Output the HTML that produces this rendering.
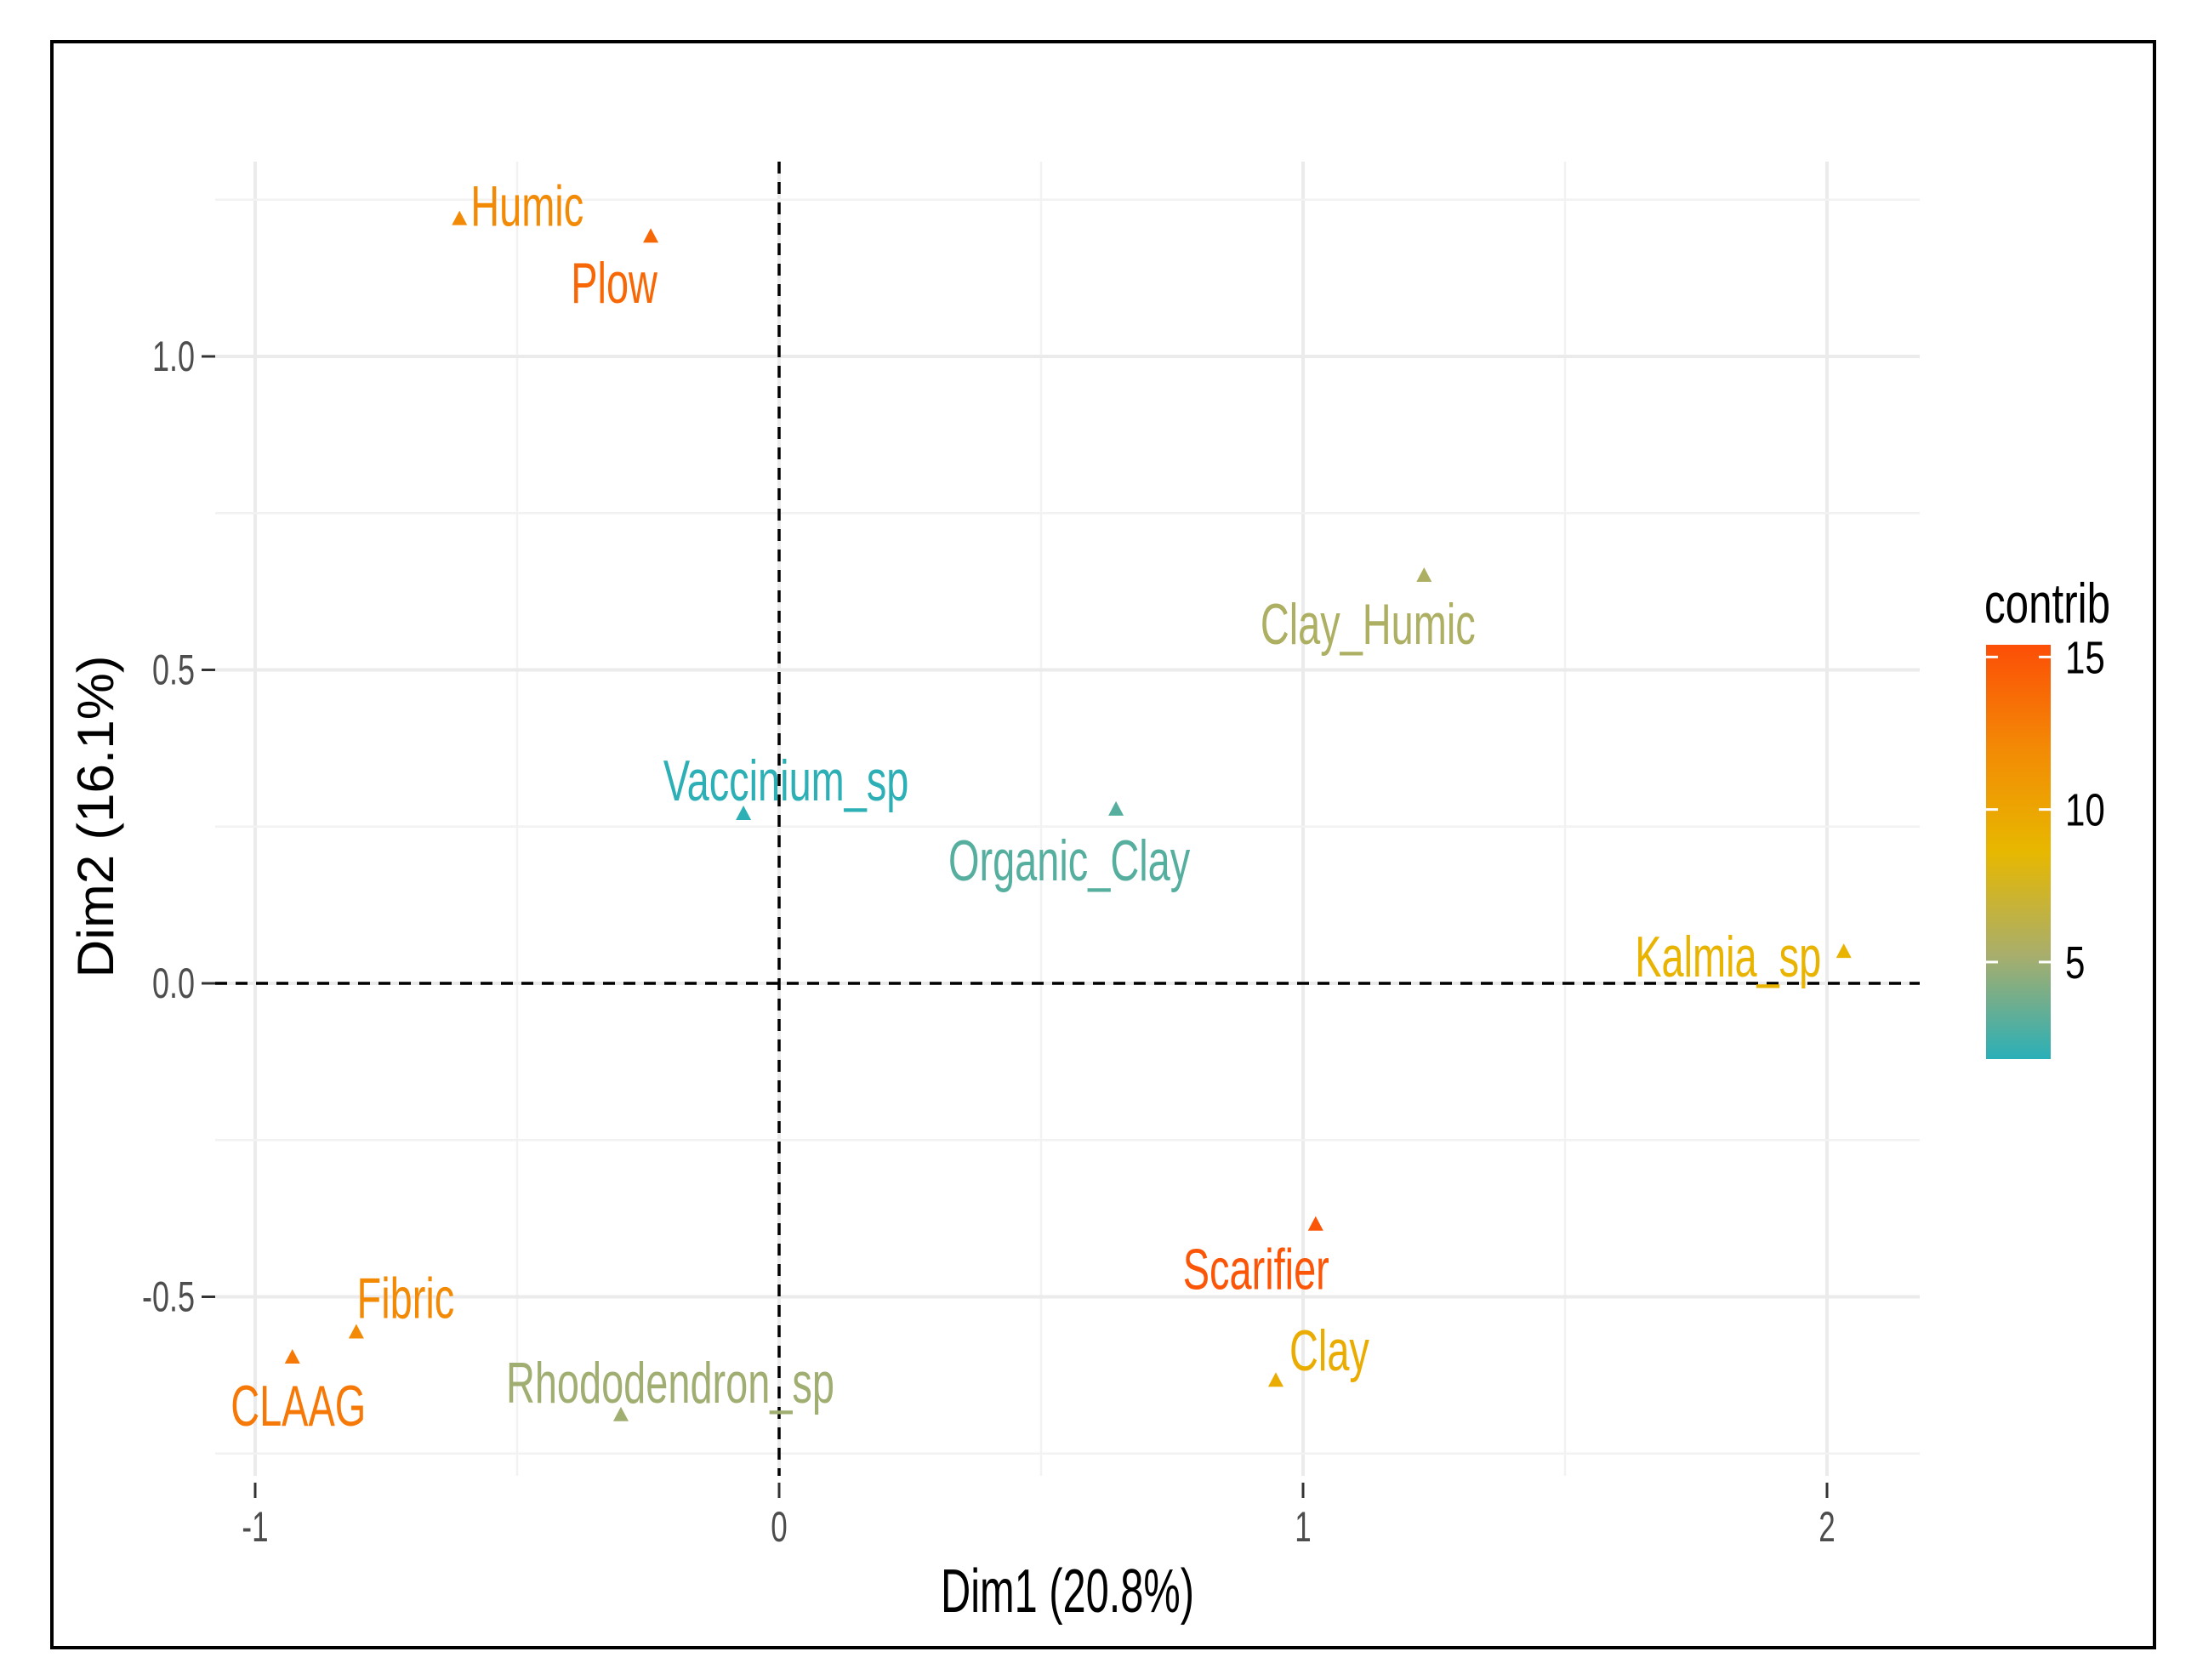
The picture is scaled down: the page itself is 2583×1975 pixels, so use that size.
<!DOCTYPE html>
<html><head><meta charset="utf-8">
<style>
html,body{margin:0;padding:0;background:#fff;}
svg{display:block;font-family:"Liberation Sans",sans-serif;}
</style></head>
<body>
<svg id="chart" width="2583" height="1975" viewBox="0 0 2583 1975" xmlns="http://www.w3.org/2000/svg">
<defs>
<linearGradient id="grad" x1="0" y1="1" x2="0" y2="0">
<stop offset="0" stop-color="#2aafb8"/>
<stop offset="0.25" stop-color="#a8ae6c"/>
<stop offset="0.5" stop-color="#e7b800"/>
<stop offset="0.75" stop-color="#f38a05"/>
<stop offset="1" stop-color="#fc4e07"/>
</linearGradient>
</defs>
<rect x="61" y="49" width="2472" height="1888" fill="#fff" stroke="#000" stroke-width="4"/>
<g id="grid"></g>
<g id="axes"></g>
<g id="marks"></g>
<text x="1255" y="1895" font-size="72" text-anchor="middle" fill="#000" textLength="298" lengthAdjust="spacingAndGlyphs">Dim1 (20.8%)</text>
<text transform="translate(133,960) rotate(-90)" font-size="60" text-anchor="middle" fill="#000" textLength="379" lengthAdjust="spacingAndGlyphs">Dim2 (16.1%)</text>
<g>
<text x="2333" y="732" font-size="66" fill="#000" textLength="148" lengthAdjust="spacingAndGlyphs">contrib</text>
<rect x="2335" y="758" width="76" height="487" fill="url(#grad)"/>
<g id="legend-ticks"></g>
</g>
</svg>
<script>
const labels = ["Humic","Plow","Vaccinium_sp","Organic_Clay","Clay_Humic","Kalmia_sp","Scarifier","Clay","Fibric","CLAAG","Rhododendron_sp"];
const dim1 = [-0.610,-0.245,-0.068,0.643,1.231,2.032,1.024,0.948,-0.807,-0.929,-0.302];
const dim2 = [1.219,1.191,0.270,0.277,0.650,0.050,-0.385,-0.634,-0.557,-0.597,-0.689];
const contrib = [12.0,14.0,1.9,3.0,5.5,9.0,15.0,9.5,12.0,13.0,5.0];
const xTicks = [-1,0,1,2];
const yTicks = [-0.5,0.0,0.5,1.0];
const yTickLabels = ["-0.5","0.0","0.5","1.0"];
const legendTicks = [5,10,15];
// label layout offsets (px) relative to the point
const labDx = [13,-43,50,-55,-66,-136,-70,63,58,7,58];
const labDy = [8,78,-16,83,80,29,76,-12,-17,80,-15];
const labAnchor = ["start","middle","middle","middle","middle","middle","middle","middle","middle","middle","middle"];

const NS="http://www.w3.org/2000/svg";
const px0=916, pxU=616, py0=1156, pyU=737;
const X=v=>px0+v*pxU, Y=v=>py0-v*pyU;
const panel={l:253,r:2257,t:190,b:1735};
const cMin=1.82,cMax=15.4;
const barTop=758, barH=487;
const LY=v=>barTop+barH-(v-cMin)/(cMax-cMin)*barH;
function hex(h){return [parseInt(h.slice(1,3),16),parseInt(h.slice(3,5),16),parseInt(h.slice(5,7),16)];}
const stops=["#2aafb8","#a8ae6c","#e7b800","#f38a05","#fc4e07"].map(hex);
function col(c){let t=Math.max(0,Math.min(1,(c-cMin)/(cMax-cMin)))*(stops.length-1);let i=Math.min(stops.length-2,Math.floor(t));let f=t-i;
 const a=stops[i],b=stops[i+1];return "rgb("+a.map((v,k)=>Math.round(v+(b[k]-v)*f)).join(",")+")";}
function mk(tag,attrs,parent){const e=document.createElementNS(NS,tag);for(const k in attrs)e.setAttribute(k,attrs[k]);parent.appendChild(e);return e;}

const grid=document.getElementById('grid');
for(let v=-1;v<=2.001;v+=0.5){
 const l=mk('line',{x1:X(v),x2:X(v),y1:panel.t,y2:panel.b,stroke:Number.isInteger(v)?'#ebebeb':'#f2f2f2','stroke-width':Number.isInteger(v)?4:2.5},grid);
 
 
}
for(let v=-0.75;v<=1.26;v+=0.25){
 const major=Math.abs(v*2-Math.round(v*2))<1e-6;
 const l=mk('line',{x1:panel.l,x2:panel.r,y1:Y(v),y2:Y(v),stroke:major?'#ebebeb':'#f2f2f2','stroke-width':major?4:2.5},grid);
 
 
}
const dv=mk('line',{x1:X(0),x2:X(0),y1:panel.t,y2:panel.b,stroke:'#000','stroke-width':3.5,'stroke-dasharray':'14,10'},grid);


const dh=mk('line',{x1:panel.l,x2:panel.r,y1:Y(0),y2:Y(0),stroke:'#000','stroke-width':3.5,'stroke-dasharray':'14,10'},grid);



const axes=document.getElementById('axes');
xTicks.forEach(v=>{
 const t=mk('line',{x1:X(v),x2:X(v),y1:panel.b+8,y2:panel.b+26,stroke:'#333','stroke-width':3},axes);
 
 
 const tx=mk('text',{x:X(v),y:1812,'font-size':50,'text-anchor':'middle',fill:'#4d4d4d',transform:`translate(${X(v)},0) scale(0.7,1) translate(${-X(v)},0)`},axes);
 tx.textContent=String(v);
 
 
});
yTicks.forEach((v,i)=>{
 const t=mk('line',{x1:panel.l-16,x2:panel.l,y1:Y(v),y2:Y(v),stroke:'#333','stroke-width':3},axes);
 
 
 const tx=mk('text',{x:229,y:Y(v)+17,'font-size':50,'text-anchor':'end',fill:'#4d4d4d',transform:`translate(229,0) scale(0.72,1) translate(-229,0)`},axes);
 tx.textContent=yTickLabels[i];
 
 
});

const marks=document.getElementById('marks');
labels.forEach((name,i)=>{
 const x=X(dim1[i]),y=Y(dim2[i]),c=col(contrib[i]);
 const p=mk('polygon',{points:`${x},${y-10} ${x-9},${y+7} ${x+9},${y+7}`,fill:c},marks);
 
 
 const tx=x+labDx[i],ty=y+labDy[i];
 const t=mk('text',{x:tx,y:ty,'font-size':68,'text-anchor':labAnchor[i],fill:c,transform:`translate(${tx},0) scale(0.69,1) translate(${-tx},0)`},marks);
 t.textContent=name;
 
 
});

const lt=document.getElementById('legend-ticks');
legendTicks.forEach(v=>{
 const y=LY(v);
 const a=mk('line',{x1:2335,x2:2349,y1:y,y2:y,stroke:'#fff','stroke-width':3},lt);
 
 
 const b=mk('line',{x1:2397,x2:2411,y1:y,y2:y,stroke:'#fff','stroke-width':3},lt);
 
 
 const t=mk('text',{x:2428,y:y+19,'font-size':54,fill:'#000',transform:`translate(2428,0) scale(0.78,1) translate(-2428,0)`},lt);
 t.textContent=String(v);
 
 
});
</script>
</body></html>
